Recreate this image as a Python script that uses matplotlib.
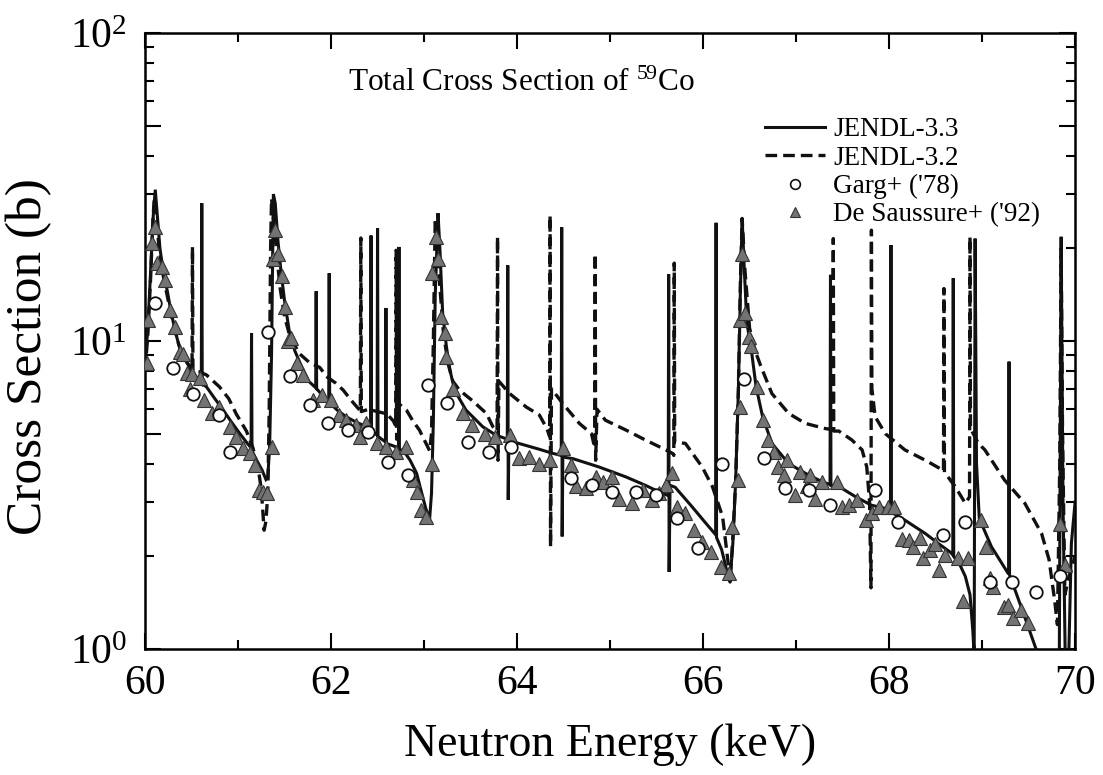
import matplotlib
matplotlib.use('Agg')
import matplotlib.pyplot as plt
from matplotlib.lines import Line2D
from matplotlib.ticker import FixedLocator, FuncFormatter
import numpy as np

plt.rcParams['font.family'] = ['Liberation Serif', 'DejaVu Serif']
plt.rcParams['mathtext.fontset'] = 'custom'
plt.rcParams['mathtext.rm'] = 'Liberation Serif'
plt.rcParams['mathtext.it'] = 'Liberation Serif:italic'
plt.rcParams['mathtext.default'] = 'regular'

# JENDL-3.3 evaluated cross section
e33 = [60.00, 60.03, 60.06, 60.09, 60.11, 60.13, 60.16, 60.20, 60.24, 60.28, 60.33, 60.38, 60.45, 60.52, 60.58,
       60.605, 60.61, 60.615,
       60.66, 60.75, 60.84, 60.93, 61.02, 61.10,
       61.14, 61.145, 61.15,
       61.20, 61.26, 61.30, 61.32, 61.34, 61.36, 61.38, 61.40, 61.43, 61.46, 61.50, 61.55, 61.61, 61.68, 61.76,
       61.835, 61.84, 61.845,
       61.90, 61.95,
       61.975, 61.98, 61.985,
       62.07, 62.16, 62.27, 62.38,
       62.425, 62.43, 62.435,
       62.495, 62.50, 62.505,
       62.585, 62.59, 62.595,
       62.725, 62.73, 62.735,
       62.78, 62.85, 62.92, 62.97, 63.02, 63.06, 63.08, 63.10, 63.12, 63.15, 63.17, 63.20, 63.24, 63.28, 63.33,
       63.45, 63.63, 63.77,
       63.895, 63.90, 63.905, 63.912,
       64.02, 64.24, 64.38,
       64.475, 64.48, 64.485, 64.492,
       64.60, 64.88, 65.17, 65.38, 65.56,
       65.625, 65.63, 65.635, 65.645,
       65.70, 65.88, 66.03, 66.10,
       66.135, 66.14, 66.145,
       66.20, 66.25, 66.29, 66.32, 66.35, 66.38, 66.40, 66.42, 66.44, 66.47, 66.52, 66.57, 66.64, 66.74, 66.92,
       67.10, 67.28,
       67.365, 67.37, 67.375,
       67.46, 67.64, 67.81, 67.96,
       68.015, 68.02, 68.025,
       68.17, 68.39, 68.53, 68.66,
       68.685, 68.69, 68.695,
       68.76, 68.82, 68.87, 68.90, 68.915, 68.925, 68.94, 68.97, 69.10, 69.27,
       69.285, 69.29, 69.295,
       69.42, 69.57, 69.66, 69.76, 69.80, 69.83, 69.85, 69.87, 69.90, 69.93, 69.96, 70.00]
s33 = [8.3, 11, 17, 26, 31, 26, 20, 16.5, 14.5, 12.4, 10.6, 9.3, 8.5, 7.85, 7.45,
       7.3, 28, 7.25,
       7.1, 6.5, 5.97, 5.45, 5.0, 4.65,
       4.5, 10.6, 4.4,
       4.1, 3.8, 3.55, 3.6, 4.6, 9, 30, 28, 21, 17, 13.5, 10.8, 9.3, 8.3, 7.4,
       7.05, 14.5, 7.0,
       6.7, 6.45,
       6.35, 16.6, 6.3,
       5.95, 5.68, 5.45, 5.27,
       5.15, 22, 5.1,
       4.95, 23.2, 4.9,
       4.7, 12.8, 4.65,
       4.5, 20.2, 4.45,
       4.4, 4.1, 3.72, 3.25, 2.85, 2.65, 3.2, 5.5, 14, 26, 20, 12.3, 9.6, 8.0, 6.9,
       5.97, 5.27, 4.95,
       4.8, 17.6, 3.05, 4.75,
       4.65, 4.45, 4.32,
       4.25, 23.4, 2.32, 4.2,
       4.15, 3.9, 3.62, 3.4, 3.2,
       3.15, 16.5, 1.78, 3.4,
       3.35, 2.9, 2.56, 2.42,
       2.35, 24.2, 2.3,
       2.1, 1.82, 1.67, 2.2, 3.5, 7, 14, 25, 18, 11.5, 9.3, 7.1, 5.68, 4.65, 4.0,
       3.72, 3.49,
       3.42, 16.4, 3.4,
       3.37, 3.12, 2.93, 2.86,
       2.8, 20.5, 2.78,
       2.62, 2.37, 2.2, 2.06,
       2.02, 16.0, 2.0,
       1.88, 1.72, 1.5, 1.15, 0.95, 21.5, 4.0, 2.65, 2.15, 1.78,
       1.75, 8.57, 1.74,
       1.37, 1.02, 0.85, 0.6, 0.5, 0.9, 21.8, 3.0, 0.7, 0.9, 2.2, 3.0]

# JENDL-3.2 evaluated cross section
e32 = [60.00, 60.03, 60.06, 60.085, 60.10, 60.12, 60.15, 60.20, 60.25, 60.30, 60.36, 60.42, 60.49,
       60.505, 60.51, 60.515,
       60.58, 60.66, 60.80, 60.90, 60.98, 61.09, 61.16, 61.22, 61.25, 61.28, 61.30, 61.32, 61.335, 61.35, 61.36,
       61.38, 61.41, 61.45, 61.50, 61.56, 61.66, 61.77, 61.88, 61.95, 62.05, 62.13, 62.22, 62.30,
       62.315, 62.32, 62.325,
       62.40, 62.50, 62.60, 62.67,
       62.695, 62.70, 62.705, 62.715,
       62.81, 62.88, 62.95, 63.02, 63.06, 63.08, 63.10, 63.12, 63.14, 63.17, 63.21, 63.26, 63.31, 63.38, 63.52,
       63.67, 63.74,
       63.785, 63.79, 63.795, 63.805,
       63.92, 64.10, 64.24, 64.32,
       64.35, 64.355, 64.36, 64.37,
       64.49, 64.67, 64.80,
       64.835, 64.84, 64.845, 64.86,
       64.95, 65.17, 65.38, 65.60, 65.68,
       65.685, 65.69, 65.695,
       65.81, 65.99, 66.10, 66.21, 66.27, 66.29, 66.32, 66.35, 66.38, 66.40, 66.42, 66.45, 66.50, 66.56, 66.62,
       66.74, 66.92, 67.10, 67.31,
       67.395, 67.40, 67.405,
       67.46, 67.60, 67.71, 67.76, 67.79,
       67.805, 67.81, 67.815,
       67.85, 67.96, 68.17, 68.39, 68.57,
       68.585, 68.59, 68.595,
       68.71, 68.82, 68.86,
       68.865, 68.87, 68.875,
       68.96, 69.03, 69.24, 69.46, 69.64, 69.72, 69.78, 69.81, 69.835, 69.85, 69.865, 69.89, 69.93, 70.00]
s32 = [8.0, 10.5, 16, 25, 29, 26, 20, 16, 13.5, 11.5, 9.8, 8.8, 8.2,
       8.1, 20.2, 8.0,
       7.95, 7.76, 7.1, 6.5, 5.8, 5.1, 4.5, 3.8, 3.3, 2.43, 2.6, 3.2, 6, 20, 29,
       25, 20, 15, 12, 10.3, 9.1, 8.5, 8.2, 7.67, 7.3, 6.93, 6.4, 6.0,
       5.95, 21.6, 5.9,
       6.0, 5.9, 5.8, 5.5,
       5.3, 19.7, 4.8, 6.3,
       5.97, 5.5, 5.14, 4.66, 4.4, 5.0, 10, 25, 21, 15, 10.5, 8.4, 7.4, 6.93, 6.4,
       5.82, 5.27,
       5.1, 21.8, 4.1, 7.4,
       6.75, 6.1, 5.75, 5.2,
       4.9, 25.6, 2.15, 7.0,
       6.27, 5.4, 5.0,
       4.5, 19.2, 4.1, 6.0,
       5.53, 5.14, 4.77, 4.43, 4.3,
       4.25, 17.9, 4.7,
       4.65, 3.9, 3.37, 2.69, 1.9, 1.65, 2.3, 3.5, 7, 15, 25, 17, 11, 9.3, 8.3,
       6.75, 5.82, 5.4, 5.2,
       5.15, 21.5, 5.1,
       5.1, 4.77, 4.43, 3.9, 3.0,
       1.58, 22.9, 7.0,
       5.68, 5.0, 4.43, 4.1, 3.82,
       3.78, 14.8, 3.75,
       3.37, 2.97, 3.1,
       3.12, 21.8, 5.2,
       4.65, 4.43, 3.54, 2.97, 2.37, 1.95, 1.44, 1.2, 4.0, 20, 5.0, 1.5, 1.7, 2.0]

# Garg+ ('78) measurement
garg_e = [60.11, 60.30, 60.52, 60.80, 60.91, 61.32, 61.56, 61.77, 61.97, 62.18, 62.40, 62.61, 62.83, 63.04,
          63.25, 63.47, 63.70, 63.93, 64.58, 64.81, 65.02, 65.28, 65.49, 65.72, 65.95, 66.20, 66.44, 66.65,
          66.88, 67.14, 67.37, 67.85, 68.10, 68.58, 68.82, 69.08, 69.32, 69.58, 69.84]
garg_s = [13.3, 8.15, 6.75, 5.75, 4.37, 10.7, 7.67, 6.2, 5.4, 5.14, 5.08, 4.06, 3.67, 7.2,
          6.27, 4.71, 4.37, 4.53, 3.58, 3.4, 3.24, 3.24, 3.16, 2.66, 2.12, 4.0, 7.5, 4.16,
          3.32, 3.28, 2.93, 3.28, 2.59, 2.34, 2.59, 1.65, 1.65, 1.53, 1.72]

# De Saussure+ ('92) measurement
ds_e = [60.02, 60.03, 60.07, 60.11, 60.13, 60.18, 60.21, 60.27, 60.32, 60.38, 60.41, 60.45, 60.48, 60.50,
        60.59, 60.63, 60.72, 60.80, 60.91, 60.98, 61.05, 61.13, 61.18, 61.22, 61.27, 61.31, 61.36, 61.38,
        61.40, 61.43, 61.47, 61.50, 61.54, 61.57, 61.63, 61.70, 61.81, 61.90, 62.00, 62.09, 62.16, 62.27,
        62.31, 62.38, 62.49, 62.59, 62.70, 62.81, 62.88, 62.92, 62.97, 63.02, 63.09, 63.09, 63.13, 63.15,
        63.18, 63.22, 63.24, 63.31, 63.42, 63.52, 63.65, 63.76, 63.92, 64.02, 64.13, 64.24, 64.35, 64.49,
        64.58, 64.63, 64.74, 64.85, 64.92, 65.02, 65.10, 65.24, 65.35, 65.45, 65.53, 65.60, 65.67, 65.72,
        65.81, 65.90, 65.99, 66.08, 66.19, 66.28, 66.31, 66.38, 66.40, 66.40, 66.42, 66.45, 66.49, 66.51,
        66.58, 66.64, 66.70, 66.76, 66.81, 66.87, 66.90, 66.99, 67.04, 67.12, 67.15, 67.20, 67.28, 67.44,
        67.49, 67.57, 67.66, 67.75, 67.82, 67.89, 67.99, 68.05, 68.14, 68.21, 68.26, 68.33, 68.37, 68.44,
        68.49, 68.54, 68.60, 68.74, 68.80, 68.85, 68.99, 69.04, 69.08, 69.12, 69.24, 69.28, 69.33, 69.42,
        69.49, 69.84, 69.89]
ds_s = [8.5, 11.7, 20.8, 23.4, 17.9, 17.4, 15.8, 12.6, 11.1, 9.2, 9.1, 7.9, 7.0, 7.8,
        7.56, 6.45, 5.82, 6.1, 5.27, 4.89, 4.49, 4.32, 3.96, 3.28, 3.24, 3.2, 4.53, 18.4,
        22.9, 19.2, 16.2, 12.9, 10.0, 10.2, 8.5, 7.78, 6.45, 6.7, 6.45, 5.75, 5.53, 5.33,
        4.89, 5.4, 4.65, 4.53, 4.37, 4.53, 3.54, 3.24, 2.83, 2.69, 4.0, 16.6, 21.8, 18.4,
        12.0, 10.6, 8.9, 7.0, 5.82, 5.33, 5.0, 4.89, 4.95, 4.16, 4.2, 4.0, 4.1, 4.49,
        3.96, 3.37, 3.32, 3.62, 3.49, 3.62, 3.08, 2.97, 3.28, 3.05, 3.2, 3.4, 3.72, 2.9,
        2.76, 2.43, 2.23, 2.07, 1.85, 1.76, 2.49, 3.54, 6.1, 11.7, 19.2, 12.3, 10.3, 9.6,
        7.1, 5.53, 4.77, 4.37, 3.9, 3.67, 4.1, 3.16, 3.76, 3.37, 3.67, 3.08, 3.49, 3.49,
        2.9, 2.93, 3.05, 2.62, 2.76, 2.9, 2.9, 2.9, 2.27, 2.26, 2.15, 2.29, 1.97, 2.1,
        2.2, 1.8, 2.02, 1.97, 1.43, 1.97, 2.62, 2.15, 1.7, 1.59, 1.37, 1.39, 1.26, 1.34,
        1.21, 2.55, 1.87]

fig = plt.figure(figsize=(11.03, 7.75), dpi=100)
ax = fig.add_axes([0.1315, 0.1626, 0.8432, 0.7948])

ax.plot(e33, s33, color='#111111', lw=2.2, solid_joinstyle='miter', zorder=3)
ax.plot(e32, s32, color='#111111', lw=2.4, dashes=(3.5, 1.8), zorder=3)
ax.plot(ds_e, ds_s, ls='none', marker='^', ms=10, mfc='#737373', mec='#333333', mew=0.8, zorder=4)
ax.plot(garg_e, garg_s, ls='none', marker='o', ms=9, mfc='white', mec='#111111', mew=1.3, zorder=5)

ax.set_yscale('log')
ax.set_xlim(60, 70)
ax.set_ylim(1, 100)

ax.xaxis.set_major_locator(FixedLocator([60, 62, 64, 66, 68, 70]))
ax.xaxis.set_minor_locator(FixedLocator([61, 63, 65, 67, 69]))
ax.yaxis.set_major_locator(FixedLocator([1, 5, 10, 50, 100]))
ax.yaxis.set_minor_locator(FixedLocator([2, 3, 4, 6, 7, 8, 9, 20, 30, 40, 60, 70, 80, 90]))
ax.yaxis.set_major_formatter(FuncFormatter(
    lambda v, p: '$10^{%d}$' % round(np.log10(v)) if v in (1, 10, 100) else ''))
ax.yaxis.set_minor_formatter(FuncFormatter(lambda v, p: ''))

ax.tick_params(which='both', direction='in', top=True, right=True, width=1.5)
ax.tick_params(which='major', length=11.5, labelsize=30)
ax.tick_params(which='minor', length=6.5)
ax.tick_params(axis='x', which='major', pad=11)
ax.tick_params(axis='y', which='major', pad=13)
for sp in ax.spines.values():
    sp.set_linewidth(1.8)

ax.set_xlabel('Neutron Energy (keV)', fontsize=33, labelpad=15)
ax.set_ylabel('Cross Section (b)', fontsize=37)
ax.yaxis.set_label_coords(-0.1, 0.475)

ax.text(0.405, 0.918, 'Total Cross Section of $^{59}$Co', transform=ax.transAxes,
        ha='center', va='center', fontsize=22.5)

handles = [Line2D([], [], color='#111111', lw=2.2),
           Line2D([], [], color='#111111', lw=2.4, dashes=(3.5, 1.8)),
           Line2D([], [], ls='none', marker='o', ms=7, mfc='white', mec='#111111', mew=1.2),
           Line2D([], [], ls='none', marker='^', ms=7, mfc='#737373', mec='#333333', mew=0.8)]
labels = ['JENDL-3.3', 'JENDL-3.2', "Garg+ ('78)", "De Saussure+ ('92)"]
ax.legend(handles, labels, loc='upper left', bbox_to_anchor=(0.667, 0.863), frameon=False,
          fontsize=19.5, handlelength=2.2, handletextpad=0.3, labelspacing=0.12,
          borderpad=0, borderaxespad=0)

fig.savefig('out.png', dpi=100)
